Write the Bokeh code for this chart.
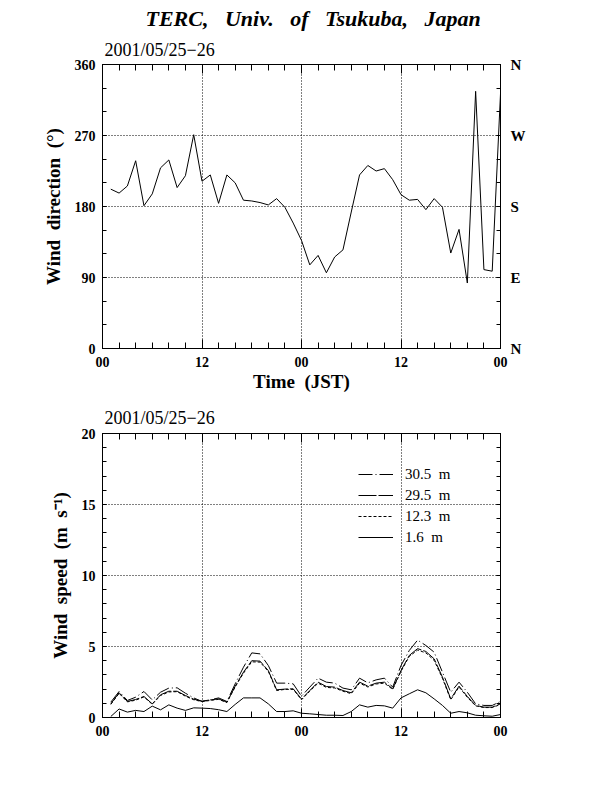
from bokeh.plotting import figure
from bokeh.layouts import column
from bokeh.models import (Title, LinearAxis, FixedTicker, Legend, LegendItem,
                          Range1d)
from bokeh.embed import file_html
from bokeh.resources import INLINE

# ---------------- data ----------------
hours = list(range(1, 49))
wind_dir = [202, 197, 206, 238, 181, 196, 229, 239, 204, 219, 271, 212,
            220, 184, 220, 210, 188, 187, 185, 182, 190, 179, 159, 137,
            106, 118, 96, 116, 125, 173, 220, 232, 225, 228, 214, 195,
            188, 189, 176, 190, 179, 121, 151, 83, 326, 100, 98, 323]
ws_305 = [1.08, 1.83, 1.20, 1.43, 1.83, 1.24, 1.78, 2.07, 2.09, 1.71, 1.38, 1.13,
          1.24, 1.38, 1.13, 2.37, 3.54, 4.55, 4.48, 3.66, 2.42, 2.42, 2.37, 1.50,
          2.14, 2.77, 2.49, 2.42, 2.07, 1.95, 2.77, 2.44, 2.65, 2.77, 2.14, 3.66,
          4.72, 5.45, 5.07, 4.60, 3.19, 1.78, 2.49, 1.78, 0.96, 0.85, 0.85, 1.13]
ws_295 = [0.96, 1.74, 1.13, 1.27, 1.48, 0.96, 1.60, 1.85, 1.85, 1.55, 1.29, 1.15,
          1.24, 1.31, 1.08, 2.20, 3.19, 4.00, 3.97, 3.30, 1.95, 2.00, 2.02, 1.30,
          1.90, 2.49, 2.18, 2.14, 1.90, 1.74, 2.49, 2.21, 2.42, 2.49, 2.02, 3.31,
          4.37, 4.85, 4.65, 4.13, 2.84, 1.31, 2.21, 1.48, 0.85, 0.73, 0.73, 0.96]
ws_123 = [0.92, 1.70, 1.10, 1.22, 1.45, 0.93, 1.55, 1.80, 1.82, 1.50, 1.25, 1.12,
          1.20, 1.28, 1.05, 2.15, 3.12, 3.92, 3.90, 3.25, 1.90, 1.98, 1.98, 1.25,
          1.85, 2.42, 2.12, 2.08, 1.85, 1.68, 2.42, 2.15, 2.36, 2.42, 1.98, 3.25,
          4.30, 4.75, 4.55, 4.02, 2.76, 1.25, 2.15, 1.42, 0.82, 0.70, 0.70, 0.92]
ws_16 = [0.07, 0.60, 0.38, 0.50, 0.42, 0.80, 0.54, 0.89, 0.66, 0.50, 0.68, 0.66,
         0.63, 0.55, 0.42, 0.92, 1.38, 1.38, 1.38, 0.96, 0.42, 0.42, 0.47, 0.30,
         0.26, 0.21, 0.16, 0.16, 0.14, 0.42, 0.89, 0.73, 0.85, 0.82, 0.66, 1.38,
         1.67, 1.95, 1.74, 1.31, 0.85, 0.30, 0.42, 0.33, 0.16, 0.12, 0.09, 0.21]

x_ticks = [0, 12, 24, 36, 48]
x_tick_labels = ["00", "12", "00", "12", "00"]
dir_ticks = [0, 90, 180, 270, 360]
dir_compass = ["N", "E", "S", "W", "N"]
ws_ticks = [0, 5, 10, 15, 20]
series_labels = ["30.5\u00a0 m", "29.5\u00a0 m", "12.3\u00a0 m", "1.6\u00a0 m"]
date_text = "2001/05/25\u221226"
main_title = "TERC,\u00a0\u00a0 Univ.\u00a0\u00a0 of\u00a0\u00a0 Tsukuba,\u00a0\u00a0 Japan"

SERIF = "Liberation Serif"


def style_axis(ax, tick_in, minor_in, size="14px", standoff=7):
    ax.major_tick_in = tick_in
    ax.major_tick_out = 0
    ax.minor_tick_in = minor_in
    ax.minor_tick_out = 0
    ax.axis_line_color = "black"
    ax.major_tick_line_color = "black"
    ax.minor_tick_line_color = "black"
    ax.major_label_text_font = SERIF
    ax.major_label_text_font_style = "bold"
    ax.major_label_text_font_size = size
    ax.major_label_text_color = "black"
    ax.major_label_standoff = standoff
    ax.axis_label_text_font = SERIF
    ax.axis_label_text_font_style = "bold"
    ax.axis_label_text_font_size = "19px"
    ax.axis_label_text_color = "black"


def make_fig(ymax, yticks, yminor, top, bottom):
    p = figure(frame_width=398, frame_height=284,
               x_range=Range1d(0, 48), y_range=Range1d(0, ymax),
               output_backend="svg", toolbar_location=None,
               min_border_left=102, min_border_right=114,
               min_border_top=top, min_border_bottom=bottom)
    p.outline_line_color = "black"
    p.outline_line_width = 1
    p.background_fill_color = "white"
    p.border_fill_color = "white"

    xt = FixedTicker(ticks=x_ticks, minor_ticks=list(range(0, 49, 2)))
    yt = FixedTicker(ticks=yticks, minor_ticks=yminor)

    xa = p.xaxis[0]
    xa.ticker = xt
    xa.major_label_overrides = dict(zip(x_ticks, x_tick_labels))
    style_axis(xa, 9, 6, standoff=8)

    ya = p.yaxis[0]
    ya.ticker = yt
    style_axis(ya, 4, 4, standoff=7)

    top_ax = LinearAxis(ticker=xt)
    style_axis(top_ax, 9, 6, size="6px", standoff=0)
    top_ax.major_label_text_color = None
    p.add_layout(top_ax, "above")

    p.xgrid.ticker = FixedTicker(ticks=x_ticks[1:-1])
    p.ygrid.ticker = FixedTicker(ticks=yticks[1:-1])
    for g in (p.xgrid, p.ygrid):
        g.grid_line_color = "black"
        g.grid_line_dash = "1 2"
        g.grid_line_width = 1
    return p, xa, ya, yt


# ---------------- top: wind direction ----------------
p1, xa1, ya1, yt1 = make_fig(360, dir_ticks, list(range(0, 361, 30)), 64, 50)
p1.line(hours, wind_dir, line_color="black", line_width=1)
xa1.axis_label = "Time\u00a0 (JST)"
xa1.axis_label_standoff = 1
ya1.axis_label = "Wind\u00a0 direction\u00a0 (\u00b0)"
ya1.axis_label_standoff = 8

r_ax = LinearAxis(ticker=yt1)
r_ax.major_label_overrides = dict(zip(dir_ticks, dir_compass))
style_axis(r_ax, 4, 4, size="15px", standoff=10)
p1.add_layout(r_ax, "right")

p1.title.text = main_title
p1.title.align = "left"
p1.title.offset = 43
p1.title.standoff = 5
p1.title.text_font = SERIF
p1.title.text_font_style = "bold italic"
p1.title.text_font_size = "22px"
p1.title.text_color = "black"
p1.add_layout(Title(text=date_text, align="left", offset=2, text_font=SERIF,
                    text_font_style="normal", text_font_size="18px",
                    text_color="black", standoff=9), "above")

# ---------------- bottom: wind speed ----------------
p2, xa2, ya2, yt2 = make_fig(20, ws_ticks, list(range(0, 21, 1)), 35, 60)
r305 = p2.line(hours, ws_305, line_color="black", line_width=1, line_dash="14 3 1 3")
r295 = p2.line(hours, ws_295, line_color="black", line_width=1, line_dash="18 2")
r123 = p2.line(hours, ws_123, line_color="black", line_width=1, line_dash="3 2")
r16 = p2.line(hours, ws_16, line_color="black", line_width=1)
ya2.axis_label = "Wind\u00a0 speed\u00a0 (m\u00a0 s\u207b\u00b9)"
ya2.axis_label_standoff = 8

r_ax2 = LinearAxis(ticker=yt2)
style_axis(r_ax2, 4, 4, size="6px", standoff=0)
r_ax2.major_label_text_color = None
p2.add_layout(r_ax2, "right")

p2.add_layout(Title(text=date_text, align="left", offset=2, text_font=SERIF,
                    text_font_style="normal", text_font_size="18px",
                    text_color="black", standoff=11), "above")

legend = Legend(items=[LegendItem(label=l, renderers=[r]) for l, r in
                       zip(series_labels, [r305, r295, r123, r16])],
                location=(256, 170), border_line_color=None,
                background_fill_alpha=0, padding=0, margin=0, spacing=1,
                label_height=20, glyph_height=20, glyph_width=35,
                label_standoff=12, label_text_font=SERIF,
                label_text_font_size="15px", label_text_color="black")
p2.add_layout(legend)

layout = column(p1, p2, spacing=0)
open("out.html", "w").write(file_html(layout, INLINE))
